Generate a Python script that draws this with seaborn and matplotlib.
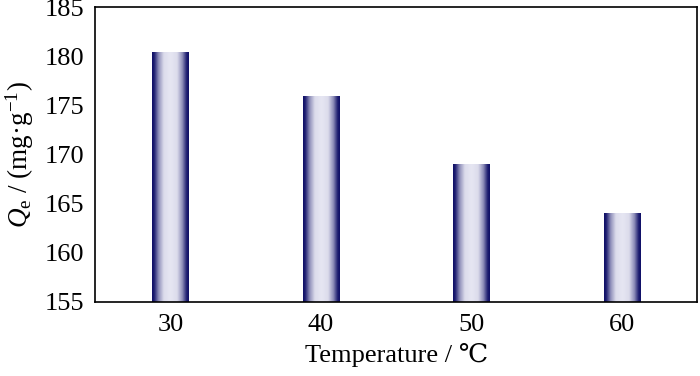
import numpy as np
import pandas as pd
import matplotlib
matplotlib.use("Agg")
import matplotlib.pyplot as plt
import seaborn as sns
from matplotlib.colors import LinearSegmentedColormap

temperatures = ["30", "40", "50", "60"]
qe_values = [180.4, 175.9, 169.0, 164.0]
y_ticks = [155, 160, 165, 170, 175, 180, 185]

sns.set_theme(style="white")
plt.rcParams['font.family'] = ['Liberation Serif', 'DejaVu Serif']
plt.rcParams['mathtext.fontset'] = 'custom'
plt.rcParams['mathtext.rm'] = 'Liberation Serif'
plt.rcParams['mathtext.it'] = 'Liberation Serif:italic'
plt.rcParams['text.color'] = 'black'
plt.rcParams['axes.labelcolor'] = 'black'

df = pd.DataFrame({"Temperature": temperatures, "Qe": qe_values})

fig = plt.figure(figsize=(7.0, 3.76), dpi=100)
ax = fig.add_axes([0.136, 0.197, 0.860, 0.784])
sns.barplot(data=df, x="Temperature", y="Qe", ax=ax, width=0.245,
            color="#10106a", linewidth=0, saturation=1)

ymin, ymax = 155, 185
ax.set_ylim(ymin, ymax)
ax.set_xlim(-0.5, 3.5)
ax.set_yticks(y_ticks)

cmap = LinearSegmentedColormap.from_list("g", ["#0e0e66", "#e6e6f2"])
t = np.linspace(0, 1, 240)
prof = np.interp(t, [0, 0.06, 0.18, 0.32, 0.5, 0.68, 0.82, 0.94, 1],
                 [0, 0.08, 0.6, 0.95, 1, 0.95, 0.6, 0.08, 0])
grad = prof[np.newaxis, :]
for p in list(ax.patches):
    x0, y0 = p.get_x(), p.get_y()
    w, h = p.get_width(), p.get_height()
    ax.imshow(grad, extent=[x0, x0 + w, ymin, y0 + h], aspect='auto',
              cmap=cmap, vmin=0, vmax=1, zorder=p.get_zorder() + 0.1,
              interpolation='bilinear')
ax.set_ylim(ymin, ymax)
ax.set_xlim(-0.5, 3.5)

ax.set_xlabel("Temperature / ℃", fontsize=19, labelpad=5, color='black')
ax.set_ylabel(r"$Q_{\mathrm{e}}$ / (mg·g$^{-1}$)", fontsize=19.5, labelpad=6, color='black')
ax.tick_params(axis='both', length=0, labelsize=19, colors='black')
ax.tick_params(axis='x', pad=9)
ax.tick_params(axis='y', pad=8)
for s in ax.spines.values():
    s.set_visible(True)
    s.set_color('black')
    s.set_linewidth(1.2)

fig.savefig("out.png", dpi=100)
